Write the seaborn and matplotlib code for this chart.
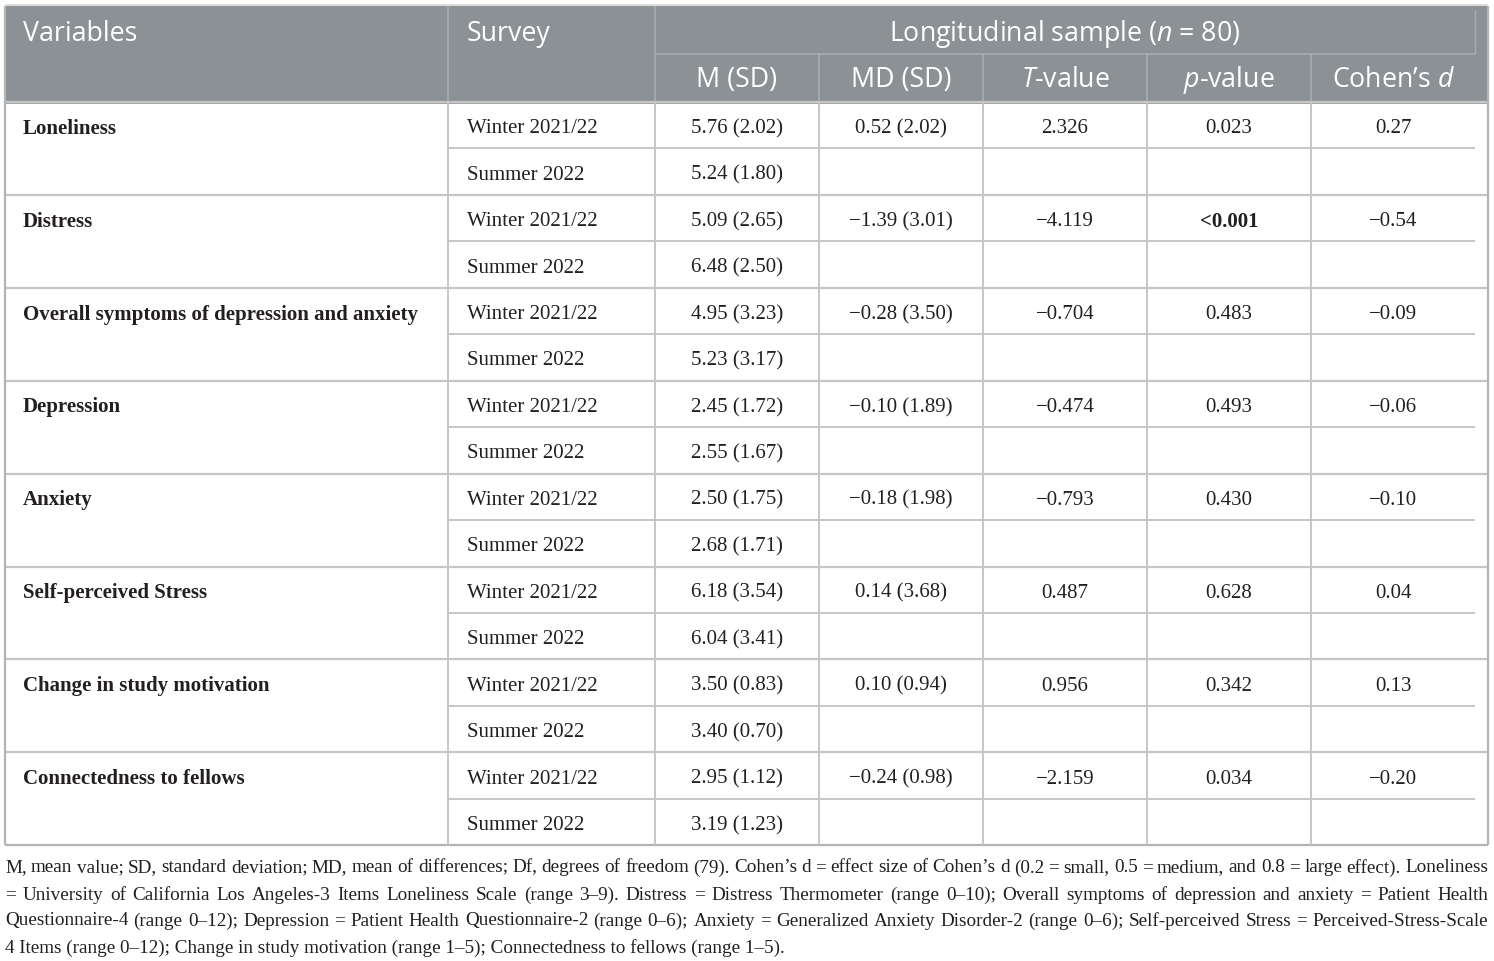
import matplotlib
matplotlib.use("Agg")
import matplotlib.pyplot as plt
import seaborn as sns

# table data
variables = ["Loneliness", "Distress", "Overall symptoms of depression and anxiety",
             "Depression", "Anxiety", "Self-perceived Stress",
             "Change in study motivation", "Connectedness to fellows"]
surveys = ["Winter 2021/22", "Summer 2022"]
winter_msd = ["5.76 (2.02)", "5.09 (2.65)", "4.95 (3.23)", "2.45 (1.72)",
              "2.50 (1.75)", "6.18 (3.54)", "3.50 (0.83)", "2.95 (1.12)"]
summer_msd = ["5.24 (1.80)", "6.48 (2.50)", "5.23 (3.17)", "2.55 (1.67)",
              "2.68 (1.71)", "6.04 (3.41)", "3.40 (0.70)", "3.19 (1.23)"]
md_sd = ["0.52 (2.02)", "\u22121.39 (3.01)", "\u22120.28 (3.50)", "\u22120.10 (1.89)",
         "\u22120.18 (1.98)", "0.14 (3.68)", "0.10 (0.94)", "\u22120.24 (0.98)"]
t_values = ["2.326", "\u22124.119", "\u22120.704", "\u22120.474",
            "\u22120.793", "0.487", "0.956", "\u22122.159"]
p_values = ["0.023", "<0.001", "0.483", "0.493", "0.430", "0.628", "0.342", "0.034"]
p_bold = [False, True, False, False, False, False, False, False]
cohens_d = ["0.27", "\u22120.54", "\u22120.09", "\u22120.06",
            "\u22120.10", "0.04", "0.13", "\u22120.20"]
sub_headers = ["M (SD)", "MD (SD)", "$T$-value", "$p$-value", "Cohen\u2019s $d$"]

footnote = [
    "M, mean value; SD, standard deviation; MD, mean of differences; Df, degrees of freedom (79). "
    "Cohen\u2019s d = effect size of Cohen\u2019s d (0.2 = small, 0.5 = medium, and 0.8 = large effect). Loneliness",
    "= University of California Los Angeles-3 Items Loneliness Scale (range 3\u20139). Distress = Distress "
    "Thermometer (range 0\u201310); Overall symptoms of depression and anxiety = Patient Health",
    "Questionnaire-4 (range 0\u201312); Depression = Patient Health Questionnaire-2 (range 0\u20136); "
    "Anxiety = Generalized Anxiety Disorder-2 (range 0\u20136); Self-perceived Stress = Perceived-Stress-Scale",
    "4 Items (range 0\u201312); Change in study motivation (range 1\u20135); Connectedness to fellows (range 1\u20135).",
]

sns.set_style("white")
plt.rcParams["font.family"] = ["Liberation Serif", "DejaVu Serif"]
plt.rcParams["mathtext.fontset"] = "custom"
plt.rcParams["mathtext.it"] = "Open Sans:italic"
plt.rcParams["mathtext.rm"] = "Open Sans"

W, H = 1494, 961
fig = plt.figure(figsize=(W / 100, H / 100), dpi=100)
ax = fig.add_axes([0, 0, 1, 1])
ax.set_xlim(0, W)
ax.set_ylim(H, 0)
ax.axis("off")

# geometry
left, right, inner_right = 5, 1488, 1475
col_x = [5, 448, 655, 819, 983, 1147, 1311, 1488]
top, head_mid, head_bot = 6, 54, 102
grp_h = 92.9
n = len(variables)
body_bot = head_bot + n * grp_h

head_col = "#8b9194"
sep_head = "#a7acae"
line_col = "#c6c6c6"
border_col = "#b4b4b4"
txt = "#231f20"

# header background
ax.add_patch(plt.Rectangle((left, top), right - left, head_bot - top,
                           facecolor=head_col, edgecolor="none", zorder=0))
ax.hlines(top - 1, left, right, color="#dcdcdc", lw=1.5)
ax.hlines(head_mid, col_x[2], inner_right, color=sep_head, lw=1.2)
ax.vlines(col_x[1:3], top, head_bot, color=sep_head, lw=1.2)
ax.vlines(col_x[3:7], head_mid, head_bot, color=sep_head, lw=1.2)
ax.vlines(inner_right, top + 4, head_mid, color=sep_head, lw=1.0)
ax.hlines(head_bot, left, right, color="#9ea3a5", lw=2.2)

hfs = 19.3
ax.text(23, 34, "Variables", color="white", fontsize=hfs, family="Open Sans", va="center")
ax.text(467, 34, "Survey", color="white", fontsize=hfs, family="Open Sans", va="center")
ax.text((col_x[2] + inner_right) / 2, 34, "Longitudinal sample ($n$ = 80)", color="white",
        fontsize=hfs, family="Open Sans", va="center", ha="center")
for j, lab in enumerate(sub_headers):
    cx = (col_x[2 + j] + col_x[3 + j]) / 2 if j < 4 else (col_x[6] + inner_right) / 2
    ax.text(cx, 80, lab, color="white", fontsize=hfs, family="Open Sans",
            va="center", ha="center")

# body lines
for i in range(n + 1):
    ax.hlines(head_bot + i * grp_h, left, right, color=border_col if i == n else line_col, lw=1.6)
for i in range(n):
    ax.hlines(head_bot + i * grp_h + grp_h / 2, col_x[1], inner_right, color=line_col, lw=1.4)
ax.vlines([left, right], top, body_bot, color=border_col, lw=1.6)
ax.vlines(col_x[1:7], head_bot, body_bot, color=line_col, lw=1.4)

# body text
bfs = 15
centers = [(col_x[2 + j] + col_x[3 + j]) / 2 for j in range(4)] + [(col_x[6] + inner_right) / 2]
for i in range(n):
    y1 = head_bot + i * grp_h + grp_h / 4 + 3.5
    y2 = head_bot + i * grp_h + 3 * grp_h / 4 + 3.5
    ax.text(23, y1, variables[i], fontsize=bfs, weight="bold", color=txt, va="center")
    ax.text(467, y1, surveys[0], fontsize=bfs, color=txt, va="center")
    ax.text(467, y2, surveys[1], fontsize=bfs, color=txt, va="center")
    ax.text(centers[0], y1, winter_msd[i], fontsize=bfs, color=txt, va="center", ha="center")
    ax.text(centers[0], y2, summer_msd[i], fontsize=bfs, color=txt, va="center", ha="center")
    ax.text(centers[1], y1, md_sd[i], fontsize=bfs, color=txt, va="center", ha="center")
    ax.text(centers[2], y1, t_values[i], fontsize=bfs, color=txt, va="center", ha="center")
    ax.text(centers[3], y1, p_values[i], fontsize=bfs, color=txt, va="center", ha="center",
            weight="bold" if p_bold[i] else "normal")
    ax.text(centers[4], y1, cohens_d[i], fontsize=bfs, color=txt, va="center", ha="center")

# footnote, justified
ffs = 13.8
fig.canvas.draw()
renderer = fig.canvas.get_renderer()
foot_y = [868, 895, 921, 948]


def width_of(s):
    t = ax.text(0, 0, s, fontsize=ffs)
    bb = t.get_window_extent(renderer)
    t.remove()
    return bb.width


for k, line in enumerate(footnote):
    words = line.split(" ")
    if k == len(footnote) - 1:
        ax.text(left, foot_y[k], line, fontsize=ffs, color=txt, va="center")
        continue
    widths = [width_of(w) for w in words]
    gap = (right - left - sum(widths)) / (len(words) - 1)
    x = left
    for w, wd in zip(words, widths):
        ax.text(x, foot_y[k], w, fontsize=ffs, color=txt, va="center")
        x += wd + gap

fig.savefig("out.png", dpi=100)
